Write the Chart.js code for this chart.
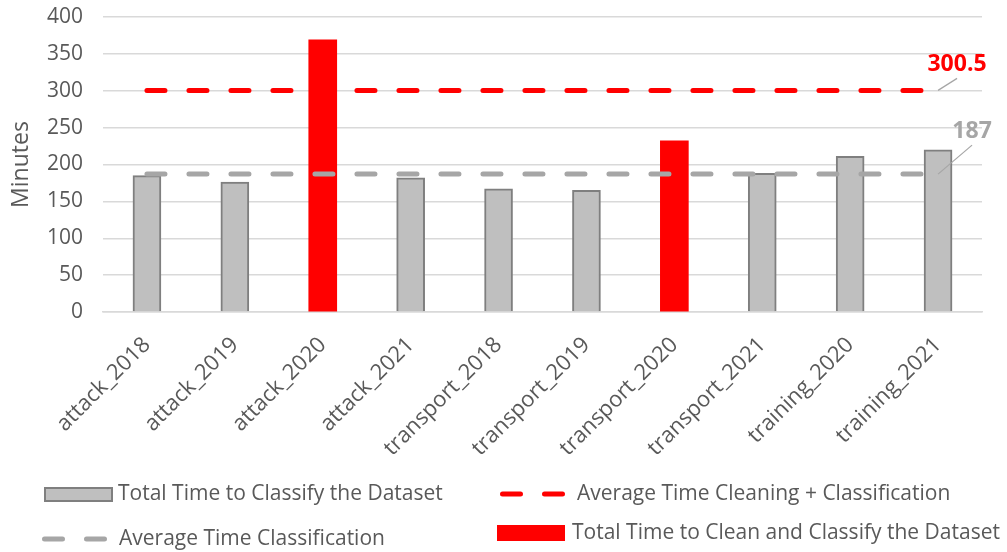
<!DOCTYPE html>
<html>
<head>
<meta charset="utf-8">
<script src="https://cdn.jsdelivr.net/npm/chart.js@4"></script>
<style>
  html, body { margin: 0; padding: 0; background: #ffffff; }
  #wrap { position: relative; width: 1007px; height: 552px; }
</style>
</head>
<body>
<div id="wrap"><canvas id="c" width="1007" height="552"></canvas></div>
<script>
// Categories and measured times (minutes)
const categories = ['attack_2018', 'attack_2019', 'attack_2020', 'attack_2021',
  'transport_2018', 'transport_2019', 'transport_2020', 'transport_2021',
  'training_2020', 'training_2021'];
const classifyTimes = [185, 176, null, 182, 167, 165, null, 188, 211, 220];
const cleanClassifyTimes = [null, null, 369, null, null, null, 232, null, null, null];
const avgCleanClassify = [300.5, 300.5, 300.5, 300.5, 300.5, 300.5, 300.5, 300.5, 300.5, 300.5];
const avgClassify = [187, 187, 187, 187, 187, 187, 187, 187, 187, 187];
const yTicks = [0, 50, 100, 150, 200, 250, 300, 350, 400];

const TEXT = '#595959';
const FONT = '"Open Sans", sans-serif';

// Value callouts at the right end of the two average lines
const endLabels = {
  id: 'endLabels',
  afterDatasetsDraw(chart) {
    const ctx = chart.ctx;
    const xs = chart.scales.x, ys = chart.scales.y;
    const items = [
      { ds: 0, color: '#ff0000', dx: 19, dy: 12 },
      { ds: 1, color: '#a6a6a6', dx: 34, dy: 29 }
    ];
    items.forEach(it => {
      const data = chart.data.datasets[it.ds].data;
      const last = data.length - 1;
      const x = xs.getPixelForValue(last);
      const y = ys.getPixelForValue(data[last]);
      ctx.save();
      ctx.strokeStyle = '#a6a6a6';
      ctx.lineWidth = 1.2;
      ctx.beginPath();
      ctx.moveTo(x, y);
      ctx.lineTo(x + it.dx, y - it.dy);
      ctx.stroke();
      ctx.fillStyle = it.color;
      ctx.font = 'bold 23px ' + FONT;
      ctx.textAlign = 'center';
      ctx.textBaseline = 'bottom';
      ctx.fillText(String(data[last]), x + it.dx, y - it.dy - 2);
      ctx.restore();
    });
  }
};

// Two-column legend under the axis labels
const bottomLegend = {
  id: 'bottomLegend',
  afterDraw(chart) {
    const ctx = chart.ctx;
    const ds = chart.data.datasets;
    ctx.save();
    ctx.font = '21px ' + FONT;
    ctx.fillStyle = TEXT;
    ctx.textBaseline = 'middle';
    ctx.textAlign = 'left';

    // Total Time to Classify the Dataset
    ctx.fillStyle = '#bfbfbf';
    ctx.fillRect(45, 488, 67, 13);
    ctx.strokeStyle = '#7f7f7f';
    ctx.lineWidth = 2;
    ctx.strokeRect(45, 488, 67, 13);
    ctx.fillStyle = TEXT;
    ctx.fillText(ds[2].label, 118, 494);

    // Average Time Cleaning + Classification
    ctx.strokeStyle = '#ff0000';
    ctx.lineWidth = 5;
    ctx.lineCap = 'round';
    ctx.setLineDash([18, 24]);
    ctx.beginPath();
    ctx.moveTo(502.5, 494);
    ctx.lineTo(566, 494);
    ctx.stroke();
    ctx.fillText(ds[0].label, 577, 494);

    // Average Time Classification
    ctx.strokeStyle = '#a6a6a6';
    ctx.beginPath();
    ctx.moveTo(44.5, 539);
    ctx.lineTo(106, 539);
    ctx.stroke();
    ctx.setLineDash([]);
    ctx.fillText(ds[1].label, 119, 539);

    // Total Time to Clean and Classify the Dataset
    ctx.fillStyle = '#ff0000';
    ctx.fillRect(497, 525, 68, 16);
    ctx.fillStyle = TEXT;
    ctx.fillText(ds[3].label, 572, 533);
    ctx.restore();
  }
};

new Chart(document.getElementById('c'), {
  type: 'bar',
  data: {
    labels: categories,
    datasets: [
      {
        type: 'line', label: 'Average Time Cleaning + Classification',
        data: avgCleanClassify, borderColor: '#ff0000', borderWidth: 5,
        borderDash: [18, 24], borderCapStyle: 'round', pointRadius: 0, fill: false, order: 0
      },
      {
        type: 'line', label: 'Average Time Classification',
        data: avgClassify, borderColor: '#a6a6a6', borderWidth: 5,
        borderDash: [18, 24], borderCapStyle: 'round', pointRadius: 0, fill: false, order: 0
      },
      {
        label: 'Total Time to Classify the Dataset',
        data: classifyTimes, backgroundColor: '#bfbfbf', borderColor: '#7f7f7f',
        borderWidth: 2, barThickness: 28, grouped: false, order: 1
      },
      {
        label: 'Total Time to Clean and Classify the Dataset',
        data: cleanClassifyTimes, backgroundColor: '#ff0000', borderWidth: 0,
        barThickness: 28, grouped: false, order: 1
      }
    ]
  },
  options: {
    responsive: false,
    animation: false,
    layout: { padding: { top: 17, right: 25, bottom: 70, left: 0 } },
    plugins: { legend: { display: false }, tooltip: { enabled: false } },
    scales: {
      x: {
        grid: { display: false, drawTicks: false },
        border: { color: '#d9d9d9', width: 1.5 },
        ticks: {
          color: TEXT, font: { family: FONT, size: 22 },
          minRotation: 45, maxRotation: 45, padding: 20, autoSkip: false
        },
        afterFit(scale) { scale.height = 170; }
      },
      y: {
        min: 0, max: 400,
        afterBuildTicks(scale) { scale.ticks = yTicks.map(v => ({ value: v })); },
        grid: { color: '#d9d9d9', lineWidth: 1.5, drawTicks: false },
        border: { display: false },
        ticks: { color: TEXT, font: { family: FONT, size: 21 }, padding: 20 },
        title: {
          display: true, text: 'Minutes', color: TEXT,
          font: { family: FONT, size: 23 }, padding: { top: 8, bottom: 0 }
        },
        afterFit(scale) {
          scale.width = 103;
          scale.paddingTop = 0;
          scale.paddingBottom = 0;
        }
      }
    }
  },
  plugins: [endLabels, bottomLegend]
});
</script>
</body>
</html>
